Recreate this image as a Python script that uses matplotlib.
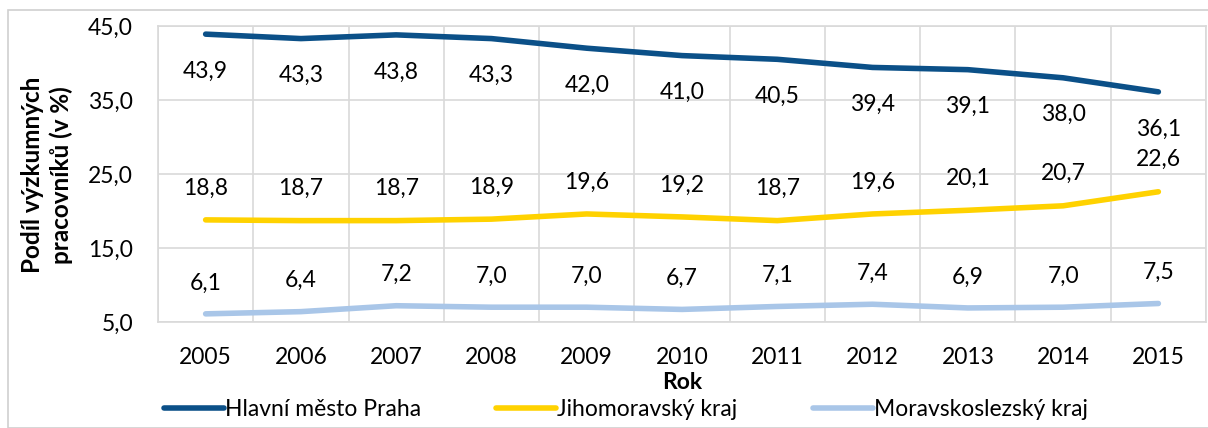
import matplotlib.pyplot as plt
from matplotlib.patches import Rectangle

plt.rcParams['font.family'] = ['Lato', 'DejaVu Sans']

years = ['2005', '2006', '2007', '2008', '2009', '2010', '2011', '2012', '2013', '2014', '2015']
praha = [43.9, 43.3, 43.8, 43.3, 42.0, 41.0, 40.5, 39.4, 39.1, 38.0, 36.1]
jihomor = [18.8, 18.7, 18.7, 18.9, 19.6, 19.2, 18.7, 19.6, 20.1, 20.7, 22.6]
moravsk = [6.1, 6.4, 7.2, 7.0, 7.0, 6.7, 7.1, 7.4, 6.9, 7.0, 7.5]
names = ['Hlavní město Praha', 'Jihomoravský kraj', 'Moravskoslezský kraj']
colors = ['#0B5088', '#FFD200', '#A9C6E8']

fs = 16.5
fig = plt.figure(figsize=(12.08, 4.28), dpi=100)
ax = fig.add_axes([158/1208, 1-322/428, 1048/1208, 296/428])
fig.patches.append(Rectangle((8/1208, 0), 1.2, 1-10/428, transform=fig.transFigure,
                             fill=False, edgecolor='#D0D0D0', lw=1.2))

x = list(range(len(years)))
series = [praha, jihomor, moravsk]
offsets = [-37, 32, 31]
for vals, col, name, off in zip(series, colors, names, offsets):
    ax.plot(x, vals, color=col, lw=4, solid_capstyle='round', label=name)
    for xi, v in zip(x, vals):
        ax.annotate(f'{v:.1f}'.replace('.', ','), (xi, v), xytext=(0, off),
                    textcoords='offset pixels', ha='center', va='center', fontsize=fs)

ax.set_xlim(-0.5, len(years) - 0.5)
ax.set_ylim(5, 45)
ax.set_yticks([5, 15, 25, 35, 45])
ax.set_yticklabels([f'{t:.1f}'.replace('.', ',') for t in [5, 15, 25, 35, 45]])
ax.set_xticks(x)
ax.set_xticklabels(years)
ax.set_xticks([i - 0.5 for i in range(len(years) + 1)], minor=True)
ax.grid(True, which='minor', axis='x', color='#D9D9D9', lw=1.2)
ax.grid(True, which='major', axis='y', color='#D9D9D9', lw=1.2)
ax.tick_params(which='both', length=0, labelsize=fs)
ax.tick_params(axis='x', pad=18)
ax.tick_params(axis='y', pad=18)
for s in ax.spines.values():
    s.set_color('#D9D9D9')
    s.set_linewidth(1.2)
ax.set_axisbelow(True)

ax.set_xlabel('Rok', fontsize=fs, fontweight='bold', labelpad=3)
fig.text(47/1208, 1-175/428, 'Podíl výzkumných\npracovníků (v %)', rotation=90,
         ha='center', va='center', fontsize=17.5, fontweight='bold', linespacing=1.25)

fig.legend(loc='center', bbox_to_anchor=(0.518, 1-410/428), ncol=3, frameon=False,
           fontsize=fs, handlelength=2.6, handletextpad=0.05, columnspacing=3.3)

fig.savefig('out.png', dpi=100)
